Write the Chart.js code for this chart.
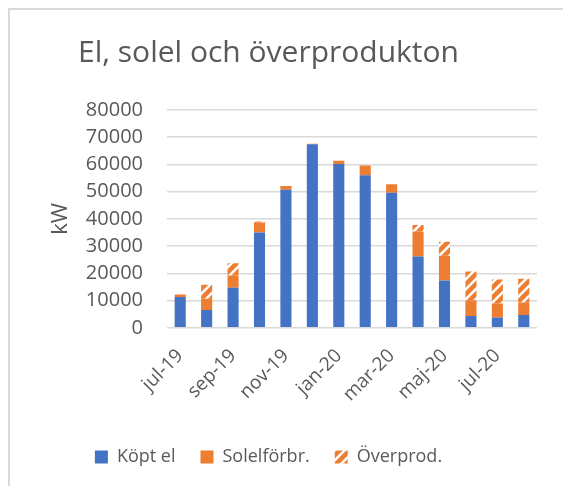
<!DOCTYPE html>
<html>
<head>
<meta charset="utf-8">
<script src="https://cdn.jsdelivr.net/npm/chart.js@4"></script>
<style>
    html, body { margin: 0; padding: 0; background: #fff; overflow: hidden; }
    #frame {
        position: absolute; left: 8px; top: 8px;
        width: 620px; height: 540px;
        border: 2px solid #d9d9d9;
    }
    #wrap { position: absolute; left: 0; top: 0; width: 563px; height: 486px; }
</style>
</head>
<body>
<div id="frame"></div>
<div id="wrap"><canvas id="elChart" width="563" height="486"></canvas></div>
<script>
    // Data
    // ----------------------------------------------
    const months    = ['jul-19', 'aug-19', 'sep-19', 'okt-19', 'nov-19', 'dec-19', 'jan-20',
                       'feb-20', 'mar-20', 'apr-20', 'maj-20', 'jun-20', 'jul-20', 'aug-20'];
    const koptEl    = [11300, 6500, 14700, 35000, 50700, 67400, 60200, 56000, 49600, 26200, 17400, 4300, 3800, 4700];
    const solelForb = [900, 4200, 4500, 3700, 1400, 200, 1200, 3600, 3100, 9200, 9100, 5800, 5100, 4600];
    const overProd  = [0, 5100, 4500, 300, 0, 0, 0, 0, 0, 2400, 5100, 10600, 8800, 8700];
    const yTicks    = [0, 10000, 20000, 30000, 40000, 50000, 60000, 70000, 80000];

    const blue   = '#4472C4';
    const orange = '#ED7D31';
    const text   = '#595959';
    const grid   = '#d9d9d9';
    const font   = "'Open Sans', sans-serif";

    // Wide upward diagonal hatch
    // ----------------------------------------------
    function hatch() {
        const c = document.createElement('canvas');
        c.width = 10; c.height = 10;
        const g = c.getContext('2d');
        g.fillStyle = '#fff';
        g.fillRect(0, 0, 10, 10);
        g.strokeStyle = orange;
        g.lineWidth = 4.5;
        g.beginPath();
        g.moveTo(-5, 5);  g.lineTo(5, -5);
        g.moveTo(0, 10);  g.lineTo(10, 0);
        g.moveTo(5, 15);  g.lineTo(15, 5);
        g.stroke();
        return g.createPattern(c, 'repeat');
    }

    new Chart(document.getElementById('elChart'), {
        type: 'bar',
        data: {
            labels: months,
            datasets: [
                { label: 'Köpt el',     data: koptEl,    backgroundColor: blue },
                { label: 'Solelförbr.', data: solelForb, backgroundColor: orange },
                { label: 'Överprod.',   data: overProd,  backgroundColor: hatch() }
            ]
        },
        options: {
            responsive: false,
            animation: false,
            layout: { padding: { left: 0, right: 26, top: 0, bottom: 10 } },
            datasets: { bar: { barPercentage: 1, categoryPercentage: 0.42 } },
            plugins: {
                title: {
                    display: true,
                    text: 'El, solel och överprodukton',
                    color: text,
                    font: { family: font, size: 30, weight: 'normal' },
                    padding: { top: 35, bottom: 39 }
                },
                legend: {
                    position: 'bottom',
                    labels: {
                        color: text,
                        font: { family: font, size: 18 },
                        boxWidth: 13,
                        boxHeight: 13,
                        padding: 25
                    }
                },
                tooltip: { enabled: false }
            },
            scales: {
                x: {
                    stacked: true,
                    grid: { display: false, drawTicks: false },
                    border: { display: false },
                    ticks: {
                        color: text,
                        font: { family: font, size: 19 },
                        autoSkip: false,
                        maxRotation: 45,
                        minRotation: 45,
                        padding: 17,
                        callback: function (v, i) { return i % 2 === 0 ? this.getLabelForValue(v) : ''; }
                    }
                },
                y: {
                    stacked: true,
                    min: 0,
                    max: 80000,
                    afterBuildTicks: (s) => { s.ticks = yTicks.map(v => ({ value: v })); },
                    afterFit: (s) => { s.width = 167; },
                    grid: { color: grid, lineWidth: 1.5, drawTicks: false },
                    border: { display: false },
                    ticks: {
                        color: text,
                        font: { family: font, size: 20 },
                        padding: 24,
                        autoSkip: false,
                        callback: (v) => String(v)
                    },
                    title: {
                        display: true,
                        text: 'kW',
                        color: text,
                        font: { family: font, size: 22 },
                        padding: { top: 48 }
                    }
                }
            }
        }
    });
</script>
</body>
</html>
